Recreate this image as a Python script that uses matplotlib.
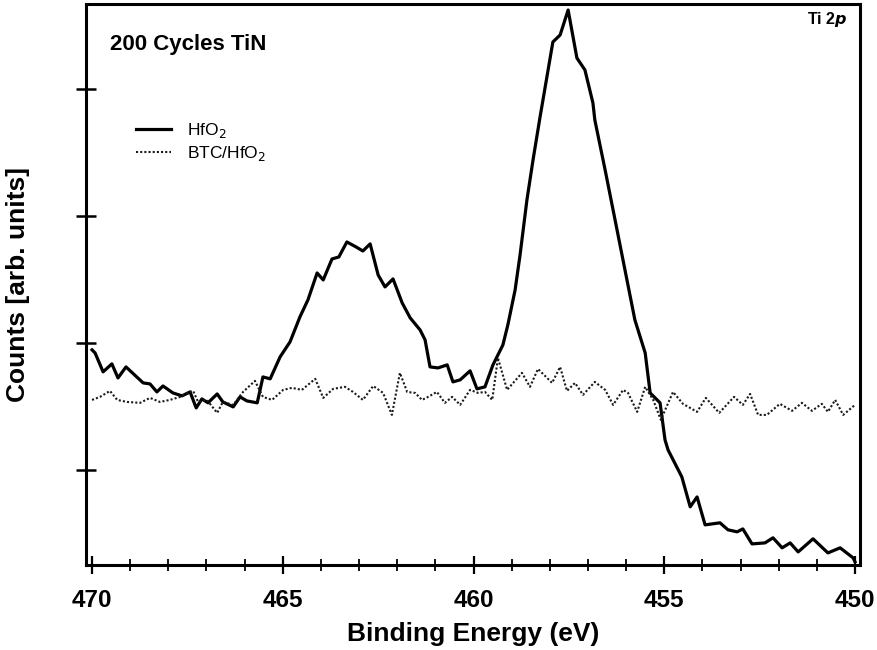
import matplotlib.pyplot as plt

# ----- Spectrum data (Ti 2p region) -------------------------------------------------------------------------------- #

# HfO2 substrate: binding energy (eV) and counts (arb. units)
HFO2_EV = [470.00, 469.92, 469.71, 469.48, 469.32, 469.11, 468.66, 468.48, 468.30, 468.14,
           467.88, 467.64, 467.43, 467.27, 467.12, 466.96, 466.72, 466.57, 466.30, 466.12,
           465.94, 465.67, 465.52, 465.33, 465.07, 464.81, 464.55, 464.34, 464.10, 463.94,
           463.71, 463.53, 463.32, 463.08, 462.90, 462.71, 462.50, 462.32, 462.11, 461.87,
           461.66, 461.40, 461.27, 461.14, 460.93, 460.69, 460.54, 460.35, 460.09, 459.91,
           459.70, 459.49, 459.23, 459.10, 458.91, 458.78, 458.60, 458.44, 458.26, 457.92,
           457.73, 457.52, 457.29, 457.08, 456.87, 456.82, 456.55, 456.29, 456.03, 455.77,
           455.50, 455.37, 455.11, 454.98, 454.90, 454.54, 454.32, 454.14, 453.93, 453.54,
           453.33, 453.09, 452.94, 452.70, 452.36, 452.15, 451.91, 451.70, 451.49, 451.10,
           450.71, 450.39, 450.05, 450.00]
HFO2_COUNTS = [1945, 1921, 1772, 1835, 1724, 1811, 1685, 1677, 1614, 1661,
               1606, 1583, 1614, 1488, 1559, 1528, 1598, 1535, 1496, 1575,
               1543, 1528, 1732, 1717, 1890, 2008, 2205, 2339, 2551, 2496,
               2661, 2677, 2795, 2756, 2724, 2780, 2535, 2441, 2504, 2315,
               2197, 2102, 2024, 1811, 1803, 1827, 1693, 1709, 1780, 1638,
               1654, 1827, 1984, 2142, 2417, 2693, 3126, 3441, 3772, 4370,
               4425, 4622, 4244, 4150, 3890, 3756, 3362, 2969, 2575, 2181,
               1921, 1606, 1528, 1236, 1157, 945, 709, 787, 567, 583,
               528, 512, 535, 417, 425, 465, 386, 425, 354, 457,
               346, 386, 307, 276]

# BTC/HfO2 substrate
BTC_EV = [470.00, 469.79, 469.53, 469.34, 469.08, 468.74, 468.48, 468.22, 467.96, 467.69,
          467.51, 467.35, 467.22, 466.99, 466.72, 466.57, 466.30, 466.04, 465.73, 465.52,
          465.28, 464.99, 464.76, 464.50, 464.15, 463.94, 463.68, 463.37, 463.16, 462.90,
          462.63, 462.37, 462.14, 461.93, 461.74, 461.53, 461.35, 461.19, 460.96, 460.75,
          460.56, 460.35, 460.09, 459.88, 459.70, 459.51, 459.36, 459.12, 458.73, 458.52,
          458.31, 457.94, 457.73, 457.55, 457.34, 457.13, 456.82, 456.55, 456.34, 456.08,
          455.95, 455.71, 455.50, 455.29, 455.09, 454.77, 454.51, 454.14, 453.91, 453.56,
          453.17, 452.94, 452.75, 452.54, 452.31, 451.97, 451.65, 451.39, 451.13, 450.87,
          450.71, 450.52, 450.31, 450.00]
BTC_COUNTS = [1551, 1575, 1622, 1551, 1535, 1528, 1567, 1535, 1551, 1575,
              1606, 1622, 1535, 1551, 1449, 1535, 1512, 1614, 1701, 1575,
              1551, 1630, 1646, 1630, 1717, 1567, 1638, 1654, 1614, 1551,
              1661, 1606, 1433, 1764, 1614, 1606, 1551, 1575, 1614, 1528,
              1575, 1512, 1630, 1606, 1614, 1551, 1882, 1630, 1764, 1654,
              1795, 1685, 1811, 1622, 1685, 1591, 1693, 1630, 1512, 1630,
              1606, 1457, 1654, 1551, 1394, 1614, 1520, 1457, 1567, 1449,
              1575, 1512, 1598, 1433, 1433, 1520, 1465, 1528, 1465, 1520,
              1457, 1551, 1433, 1512]

Y_TICKS = [1000, 2000, 3000, 4000]
X_MAJOR = [470, 465, 460, 455, 450]
X_MINOR = list(range(450, 471))

plt.rcParams['font.family'] = ['Liberation Sans', 'DejaVu Sans']

# ----- Plot -------------------------------------------------------------------------------------------------------- #

fig = plt.figure(figsize=(8.78, 6.5), dpi=100)
ax = fig.add_axes([0.098, 0.131, 0.8815, 0.8628])

ax.plot(HFO2_EV, HFO2_COUNTS, color='black', linewidth=2.3, label='HfO$_2$')
ax.plot(BTC_EV, BTC_COUNTS, color='#1a1a1a', linewidth=1.5, linestyle=(0, (1, 1)),
        label='BTC/HfO$_2$')

ax.set_xlim(470.157, 449.869)
ax.set_ylim(252, 4669)

ax.set_xticks(X_MAJOR)
ax.set_xticks(X_MINOR, minor=True)
ax.set_yticks(Y_TICKS)
ax.set_yticklabels([])

ax.tick_params(axis='x', which='major', direction='inout', length=13, width=1.6,
               labelsize=17.5, pad=11)
ax.tick_params(axis='x', which='minor', direction='inout', length=8, width=1.3)
ax.tick_params(axis='y', which='major', direction='inout', length=14, width=1.8)
for label in ax.get_xticklabels():
    label.set_fontweight('bold')

for spine in ax.spines.values():
    spine.set_linewidth(2.2)

ax.set_xlabel('Binding Energy (eV)', fontsize=19, fontweight='bold', labelpad=7)
ax.set_ylabel('Counts [arb. units]', fontsize=19, fontweight='bold', labelpad=30)

ax.text(0.031, 0.927, '200 Cycles TiN', transform=ax.transAxes, fontsize=16,
        fontweight='bold', va='center', ha='left')
ax.text(0.984, 0.972, r'Ti 2$\boldsymbol{p}$', transform=ax.transAxes, fontsize=11.5,
        fontweight='bold', va='center', ha='right')

ax.legend(loc='upper left', bbox_to_anchor=(0.045, 0.82), frameon=False, fontsize=12.5,
          handlelength=2.0, handletextpad=0.9, labelspacing=0.25)

plt.savefig('out.png', dpi=100)
plt.close()
